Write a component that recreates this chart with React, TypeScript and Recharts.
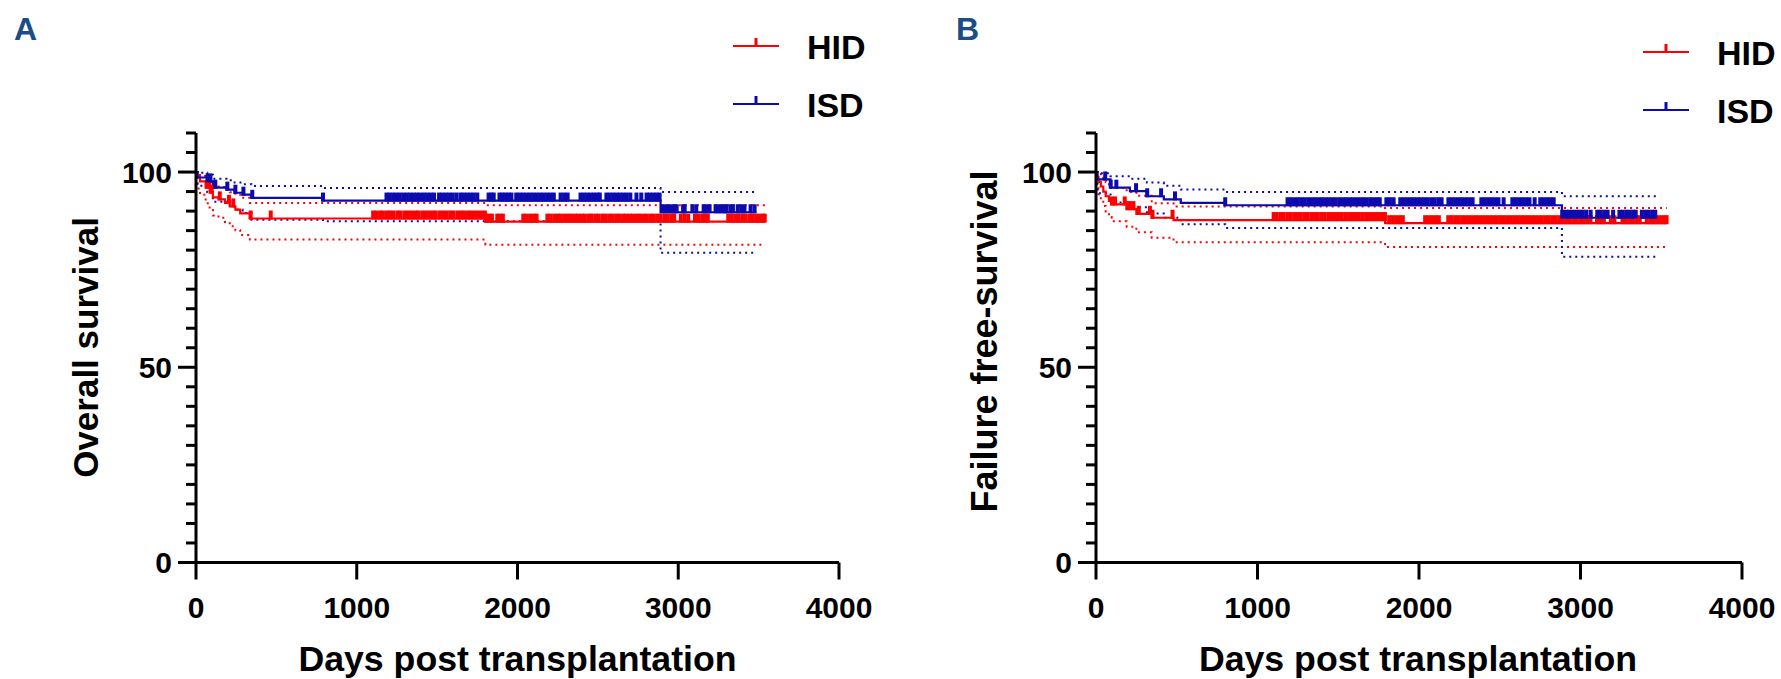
import React from 'react';
import { ComposedChart, Line, Scatter, XAxis, YAxis, Label } from 'recharts';

type Step = [number, number];

const FONT = "'Liberation Sans', Arial, Helvetica, sans-serif";
const RED = '#ff0000';
const BLUE = '#0b0bb0';
const LETTER = '#1c4d87';

const X_TICKS = [0, 1000, 2000, 3000, 4000];
const Y_TICKS = [0, 5, 10, 15, 20, 25, 30, 35, 40, 45, 50, 55, 60, 65, 70, 75, 80, 85, 90, 95, 100, 105, 110];
const Y_LABELED = [0, 50, 100];

const X_TITLE = 'Days post transplantation';
const LEGEND_LABELS = ['HID', 'ISD'];

// ---------- Panel A: Overall survival ----------
const osHidSteps: Step[] = [[0, 100], [8, 98.9], [25, 97.6], [60, 96.0], [85, 94.7], [105, 93.5], [140, 93.0], [180, 92.1], [210, 91.2], [245, 90.4], [275, 89.4], [335, 88.1], [1800, 87.3]];
const osHidUpper: Step[] = [[0, 100], [8, 99.6], [25, 99.0], [60, 98.2], [85, 97.4], [105, 96.6], [140, 96.2], [180, 95.5], [210, 94.8], [245, 94.2], [275, 93.4], [335, 92.1], [1800, 91.5]];
const osHidLower: Step[] = [[0, 100], [8, 95.8], [25, 94.2], [60, 92.0], [85, 90.3], [105, 88.9], [140, 88.3], [180, 87.2], [210, 86.1], [245, 85.1], [275, 83.9], [335, 82.7], [1800, 81.4]];
const osHidEnd = 3540;
const osHidCensor = [68, 82, 98, 148, 205, 232, 340, 465,
  1102, 1121, 1145, 1163, 1188, 1207, 1229, 1254, 1270, 1296, 1318, 1339, 1362, 1381, 1407, 1428, 1450, 1473, 1491, 1516, 1537, 1559, 1582, 1601, 1626, 1648, 1667, 1692, 1713, 1735, 1756, 1779, 1797,
  1806, 1824, 1841, 1874, 1892, 1909, 2036, 2057, 2079, 2101, 2119, 2186, 2206, 2229, 2251, 2270, 2293, 2314, 2334, 2357, 2377, 2400, 2419, 2443, 2462, 2486, 2505, 2529, 2548, 2571, 2591, 2614, 2634, 2657, 2677, 2700, 2719, 2743, 2762, 2786, 2805, 2829, 2848, 2871, 2889, 2913, 2932, 2956, 2975, 3016, 3040, 3062, 3104, 3126, 3149, 3167, 3184, 3311, 3333, 3356, 3376, 3399, 3419, 3444, 3463, 3485, 3504, 3526, 3538];

const osIsdSteps: Step[] = [[0, 100], [10, 98.6], [70, 97.6], [105, 96.0], [190, 95.5], [240, 94.7], [290, 94.2], [345, 93.4], [790, 92.7], [2890, 89.7]];
const osIsdUpper: Step[] = [[0, 100], [10, 99.8], [70, 99.3], [105, 98.3], [190, 97.9], [240, 97.3], [290, 96.9], [345, 96.4], [790, 95.9], [2890, 94.9]];
const osIsdLower: Step[] = [[0, 100], [10, 96.5], [70, 94.8], [105, 92.4], [190, 91.5], [240, 90.4], [290, 89.5], [345, 87.8], [790, 87.4], [2890, 79.3]];
const osIsdEnd = 3485;
const osIsdCensor = [72, 90, 120, 195, 245, 295, 350, 790,
  1185, 1204, 1226, 1247, 1268, 1290, 1311, 1332, 1354, 1375, 1396, 1418, 1439, 1460, 1481, 1512, 1533, 1555, 1576, 1597, 1620, 1645, 1664, 1686, 1707, 1728, 1750, 1820, 1838, 1852, 1888, 1906, 1925, 1944, 1962, 1992, 2013, 2034, 2055, 2077, 2098, 2120, 2141, 2162, 2184, 2205, 2226, 2268, 2290, 2312, 2392, 2413, 2434, 2455, 2476, 2497, 2512, 2553, 2574, 2595, 2616, 2637, 2658, 2680, 2702, 2740, 2770, 2803, 2824, 2845, 2866, 2884,
  2900, 2920, 2940, 2960, 2978, 2990, 3030, 3040, 3088, 3112, 3158, 3175, 3195, 3232, 3250, 3270, 3290, 3300, 3325, 3340, 3370, 3392, 3412, 3450, 3475];

// ---------- Panel B: Failure free-survival ----------
const ffsHidSteps: Step[] = [[0, 100], [5, 98.8], [15, 97.5], [30, 96.3], [45, 95.0], [60, 93.8], [80, 92.6], [97, 91.7], [190, 90.5], [250, 89.3], [345, 88.3], [480, 87.7], [1790, 86.9]];
const ffsHidUpper: Step[] = [[0, 100], [5, 99.9], [15, 99.5], [30, 98.9], [45, 98.2], [60, 97.4], [80, 96.6], [97, 95.9], [190, 94.9], [250, 93.9], [345, 92.0], [480, 91.2], [1790, 90.8]];
const ffsHidLower: Step[] = [[0, 100], [5, 96.0], [15, 94.3], [30, 92.8], [45, 91.3], [60, 89.9], [80, 88.5], [97, 87.4], [190, 86.0], [250, 84.6], [345, 83.2], [480, 82.0], [1790, 80.8]];
const ffsHidEnd = 3535;
const ffsHidCensor = [99, 118, 178, 195, 210, 232, 265, 334, 350, 474,
  1100, 1119, 1142, 1161, 1185, 1204, 1227, 1249, 1268, 1291, 1310, 1333, 1355, 1374, 1397, 1416, 1439, 1461, 1480, 1503, 1522, 1545, 1567, 1586, 1609, 1628, 1651, 1673, 1692, 1715, 1734, 1757, 1776, 1789,
  1815, 1836, 1858, 1880, 1900, 2038, 2060, 2081, 2103, 2123, 2181, 2202, 2224, 2245, 2267, 2288, 2310, 2331, 2353, 2374, 2396, 2417, 2439, 2460, 2482, 2503, 2525, 2546, 2568, 2589, 2611, 2632, 2654, 2675, 2697, 2718, 2740, 2761, 2783, 2804, 2826, 2847, 2869, 2890, 2912, 2933, 2955, 2976, 2998, 3019, 3041, 3062, 3102, 3124, 3145, 3188, 3210, 3260, 3281, 3303, 3324, 3346, 3367, 3410, 3432, 3453, 3474, 3496, 3517, 3533];

const ffsIsdSteps: Step[] = [[0, 100], [10, 98.1], [90, 96.0], [210, 95.1], [315, 93.8], [420, 93.0], [525, 92.1], [800, 91.5], [2885, 88.3]];
const ffsIsdUpper: Step[] = [[0, 100], [10, 99.7], [90, 98.9], [210, 98.3], [315, 97.3], [420, 96.5], [525, 95.5], [800, 94.9], [2885, 93.8]];
const ffsIsdLower: Step[] = [[0, 100], [10, 94.6], [90, 92.2], [210, 91.0], [315, 89.4], [420, 88.3], [525, 86.6], [800, 85.7], [2885, 78.3]];
const ffsIsdEnd = 3470;
const ffsIsdCensor = [57, 91, 126, 248, 317, 403, 489, 800,
  1186, 1207, 1228, 1250, 1271, 1292, 1314, 1335, 1356, 1378, 1399, 1420, 1442, 1463, 1484, 1506, 1527, 1548, 1570, 1591, 1612, 1634, 1655, 1676, 1698, 1719, 1740, 1757, 1798, 1820, 1843, 1884, 1905, 1926, 1948, 1969, 1990, 2012, 2033, 2054, 2076, 2097, 2120, 2140, 2182, 2203, 2224, 2246, 2267, 2288, 2310, 2332, 2386, 2407, 2428, 2450, 2471, 2492, 2524, 2578, 2599, 2620, 2642, 2663, 2684, 2716, 2751, 2772, 2793, 2814, 2834,
  2887, 2908, 2929, 2950, 2972, 2993, 3014, 3036, 3063, 3104, 3125, 3147, 3168, 3202, 3241, 3262, 3284, 3305, 3326, 3342, 3380, 3401, 3422, 3444, 3463];

// ---------- helpers ----------
const toLine = (steps: Step[], end: number) => [
  ...steps.map(([x, y]) => ({ x, y })),
  { x: end, y: steps[steps.length - 1][1] },
];
const valueAt = (steps: Step[], t: number) => {
  let v = steps[0][1];
  for (const [x, y] of steps) if (x <= t) v = y;
  return v;
};
const toCensor = (steps: Step[], times: number[]) => times.map((t) => ({ x: t, y: valueAt(steps, t) }));

const censorShape = (color: string) => (props: any) => (
  <line x1={props.cx} y1={props.cy + 1} x2={props.cx} y2={props.cy - 8} stroke={color} strokeWidth={4} />
);

const XTick = (props: any) => {
  const { x, y, payload } = props;
  return (
    <g>
      <line x1={x} x2={x} y1={y} y2={y + 17} stroke="#000" strokeWidth={3} />
      <text x={x} y={y + 55} textAnchor="middle" fontSize={30} fontWeight="bold" fontFamily={FONT} fill="#000">
        {payload.value}
      </text>
    </g>
  );
};

const YTick = (props: any) => {
  const { x, y, payload } = props;
  const major = Y_LABELED.includes(payload.value);
  return (
    <g>
      <line x1={x - (major ? 18 : 10)} x2={x} y1={y} y2={y} stroke="#000" strokeWidth={3} />
      {major && (
        <text x={x - 24} y={y + 10.7} textAnchor="end" fontSize={30} fontWeight="bold" fontFamily={FONT} fill="#000">
          {payload.value}
        </text>
      )}
    </g>
  );
};

type Group = { steps: Step[]; upper: Step[]; lower: Step[]; end: number; censor: number[] };

type PanelProps = {
  left: number;
  width: number;
  marginRight: number;
  yTitle: string;
  yTitleX: number;
  yTitleY: number;
  yTitleSize: number;
  xTitleX: number;
  hid: Group;
  isd: Group;
};

function Panel(p: PanelProps) {
  const dotted = { strokeWidth: 2, strokeDasharray: '2 4', dot: false, activeDot: false, isAnimationActive: false, type: 'stepAfter' as const, dataKey: 'y' };
  return (
    <div style={{ position: 'absolute', left: p.left, top: 0 }}>
      <ComposedChart width={p.width} height={679} margin={{ top: 133, right: p.marginRight, bottom: 56.5, left: 116 }}>
        <XAxis
          type="number"
          dataKey="x"
          domain={[0, 4000]}
          ticks={X_TICKS}
          interval={0}
          tickSize={0}
          tickMargin={0}
          tickLine={false}
          tick={<XTick />}
          axisLine={{ stroke: '#000', strokeWidth: 3 }}
          height={60}
        >
          <Label
            content={() => (
              <text x={p.xTitleX} y={671} textAnchor="middle" fontSize={35.7} fontWeight="bold" fontFamily={FONT} fill="#000">
                {X_TITLE}
              </text>
            )}
          />
        </XAxis>
        <YAxis
          type="number"
          dataKey="y"
          domain={[0, 110]}
          ticks={Y_TICKS}
          interval={0}
          tickSize={0}
          tickMargin={0}
          tickLine={false}
          tick={<YTick />}
          axisLine={{ stroke: '#000', strokeWidth: 3 }}
          width={80}
        >
          <Label
            content={() => (
              <text
                x={p.yTitleX}
                y={p.yTitleY}
                transform={`rotate(-90 ${p.yTitleX} ${p.yTitleY})`}
                textAnchor="middle"
                fontSize={p.yTitleSize}
                fontWeight="bold"
                fontFamily={FONT}
                fill="#000"
              >
                {p.yTitle}
              </text>
            )}
          />
        </YAxis>
        <Line {...dotted} data={toLine(p.hid.upper, p.hid.end)} stroke={RED} />
        <Line {...dotted} data={toLine(p.hid.lower, p.hid.end)} stroke={RED} />
        <Line {...dotted} data={toLine(p.isd.upper, p.isd.end)} stroke={BLUE} />
        <Line {...dotted} data={toLine(p.isd.lower, p.isd.end)} stroke={BLUE} />
        <Line data={toLine(p.hid.steps, p.hid.end)} dataKey="y" type="stepAfter" stroke={RED} strokeWidth={2.2} dot={false} activeDot={false} isAnimationActive={false} />
        <Line data={toLine(p.isd.steps, p.isd.end)} dataKey="y" type="stepAfter" stroke={BLUE} strokeWidth={2.2} dot={false} activeDot={false} isAnimationActive={false} />
        <Scatter data={toCensor(p.hid.steps, p.hid.censor)} dataKey="y" shape={censorShape(RED)} isAnimationActive={false} />
        <Scatter data={toCensor(p.isd.steps, p.isd.censor)} dataKey="y" shape={censorShape(BLUE)} isAnimationActive={false} />
      </ComposedChart>
    </div>
  );
}

function LegendBlock({ x, y, textX }: { x: number; y: number; textX: number }) {
  const colors = [RED, BLUE];
  return (
    <g>
      {LEGEND_LABELS.map((name, i) => {
        const ly = y + i * 58;
        return (
          <g key={name}>
            <line x1={x} x2={x + 46} y1={ly} y2={ly} stroke={colors[i]} strokeWidth={2} />
            <line x1={x + 23} x2={x + 23} y1={ly} y2={ly - 8} stroke={colors[i]} strokeWidth={3} />
            <text x={textX} y={ly + 13} fontSize={34} fontWeight="bold" fontFamily={FONT} fill="#000">
              {name}
            </text>
          </g>
        );
      })}
    </g>
  );
}

export default function App() {
  return (
    <div style={{ position: 'absolute', left: 0, top: 0, width: 1781, height: 679, background: '#fff', overflow: 'hidden' }}>
      <Panel
        left={0}
        width={900}
        marginRight={61}
        yTitle="Overall survival"
        yTitleX={98}
        yTitleY={347.5}
        yTitleSize={35}
        xTitleX={517.5}
        hid={{ steps: osHidSteps, upper: osHidUpper, lower: osHidLower, end: osHidEnd, censor: osHidCensor }}
        isd={{ steps: osIsdSteps, upper: osIsdUpper, lower: osIsdLower, end: osIsdEnd, censor: osIsdCensor }}
      />
      <Panel
        left={900}
        width={881}
        marginRight={39}
        yTitle="Failure free-survival"
        yTitleX={97}
        yTitleY={341.5}
        yTitleSize={36}
        xTitleX={518}
        hid={{ steps: ffsHidSteps, upper: ffsHidUpper, lower: ffsHidLower, end: ffsHidEnd, censor: ffsHidCensor }}
        isd={{ steps: ffsIsdSteps, upper: ffsIsdUpper, lower: ffsIsdLower, end: ffsIsdEnd, censor: ffsIsdCensor }}
      />
      <svg width={1781} height={679} style={{ position: 'absolute', left: 0, top: 0, pointerEvents: 'none' }}>
        <text x={14} y={40} fontSize={32} fontWeight="bold" fontFamily={FONT} fill={LETTER}>A</text>
        <text x={956} y={40} fontSize={32} fontWeight="bold" fontFamily={FONT} fill={LETTER}>B</text>
        <LegendBlock x={733} y={46} textX={807} />
        <LegendBlock x={1643} y={52} textX={1717} />
      </svg>
    </div>
  );
}
